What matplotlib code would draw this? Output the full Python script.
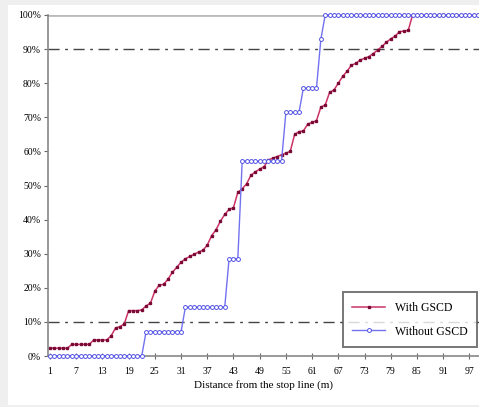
import numpy as np
import matplotlib
matplotlib.use("Agg")
import matplotlib.pyplot as plt
from matplotlib.patches import Rectangle

# distance from the stop line, one point per metre
distance = list(range(1, 100))

# cumulative share of vehicles (%)
with_gscd = [
    2.3, 2.3, 2.3, 2.3, 2.3, 3.4, 3.4, 3.4, 3.4, 3.4,
    4.7, 4.7, 4.7, 4.7, 5.9, 8.2, 8.6, 9.4, 13.3, 13.3,
    13.3, 13.5, 14.7, 15.5, 19.0, 20.8, 21.0, 22.5, 24.5, 26.0,
    27.5, 28.5, 29.2, 29.8, 30.5, 31.0, 32.5, 35.3, 37.0, 39.5,
    41.5, 43.0, 43.5, 48.0, 49.0, 50.5, 53.0, 54.0, 54.8, 55.5,
    57.5, 58.0, 58.5, 59.0, 59.5, 60.0, 65.0, 65.8, 66.0, 68.0,
    68.5, 69.0, 73.0, 73.6, 77.3, 78.0, 80.0, 82.0, 83.5, 85.3,
    85.8, 86.8, 87.3, 87.8, 88.7, 89.7, 90.8, 92.0, 93.0, 93.8,
    95.1, 95.3, 95.5,
] + [100.0] * 16

without_gscd = (
    [0.0] * 22 + [7.14] * 9 + [14.29] * 10 + [28.57] * 3 + [57.14] * 10
    + [71.43] * 4 + [78.57] * 4 + [92.86] * 1 + [100.0] * 36
)

xtick_labels = list(range(1, 98, 6))
ytick_values = list(range(0, 101, 10))

plt.rcParams['font.family'] = ['Liberation Serif', 'DejaVu Serif']

fig = plt.figure(figsize=(4.79, 4.07), dpi=100, facecolor='#efefef')
# white panel behind the chart
fig.patches.append(Rectangle((8 / 479, 0.005), 1 - 8 / 479, 1 - 5 / 407 - 0.005,
                             transform=fig.transFigure, facecolor='white',
                             edgecolor='none', zorder=-10))

ax = fig.add_axes([48 / 479, 51 / 407, 1 - 48 / 479, (356 - 15) / 407])
ax.set_zorder(5)
ax.set_facecolor('none')

ax.plot(distance, with_gscd, color='#cc3366', lw=1.1, marker='s', ms=1.6,
        mfc='#7a0a36', mec='#7a0a36', label='With GSCD', clip_on=False, zorder=3)
ax.plot(distance, without_gscd, color='#7272f0', lw=1.0, marker='o', ms=2.8,
        mfc='white', mec='#5252e6', mew=0.7, label='Without GSCD',
        clip_on=False, zorder=4)

for level in (10, 90):
    ax.axhline(level, color='#444444', lw=1.0, ls=(0, (8, 4, 2, 4)), zorder=2)
ax.axhline(100, color='#bbbbbb', lw=2.0, zorder=1)

ax.set_xlim(0.55, 99.2)
ax.set_ylim(0, 100)
ax.set_xticks(xtick_labels)
ax.set_xticklabels([str(v) for v in xtick_labels], fontsize=7)
ax.set_yticks(ytick_values)
ax.set_yticklabels([f'{v}%' for v in ytick_values], fontsize=7)
ax.tick_params(axis='x', direction='inout', length=4, color='#666666', pad=6)
ax.tick_params(axis='y', direction='out', length=3, color='#666666', pad=2)

for side in ('top', 'right'):
    ax.spines[side].set_visible(False)
for side in ('left', 'bottom'):
    ax.spines[side].set_color('#888888')
    ax.spines[side].set_linewidth(1.2)

ax.set_xlabel('Distance from the stop line (m)', fontsize=8, labelpad=3)

leg = ax.legend(loc='lower right', bbox_to_anchor=(1.0 - 2 / 431, 9 / 341),
                fontsize=8.5, frameon=True, fancybox=False, handlelength=2.8,
                borderpad=0.8, labelspacing=1.0, borderaxespad=0,
                markerscale=1.0)
leg.get_frame().set_edgecolor('#555555')
leg.get_frame().set_linewidth(1.4)

fig.savefig('out.png', dpi=100, facecolor=fig.get_facecolor())
